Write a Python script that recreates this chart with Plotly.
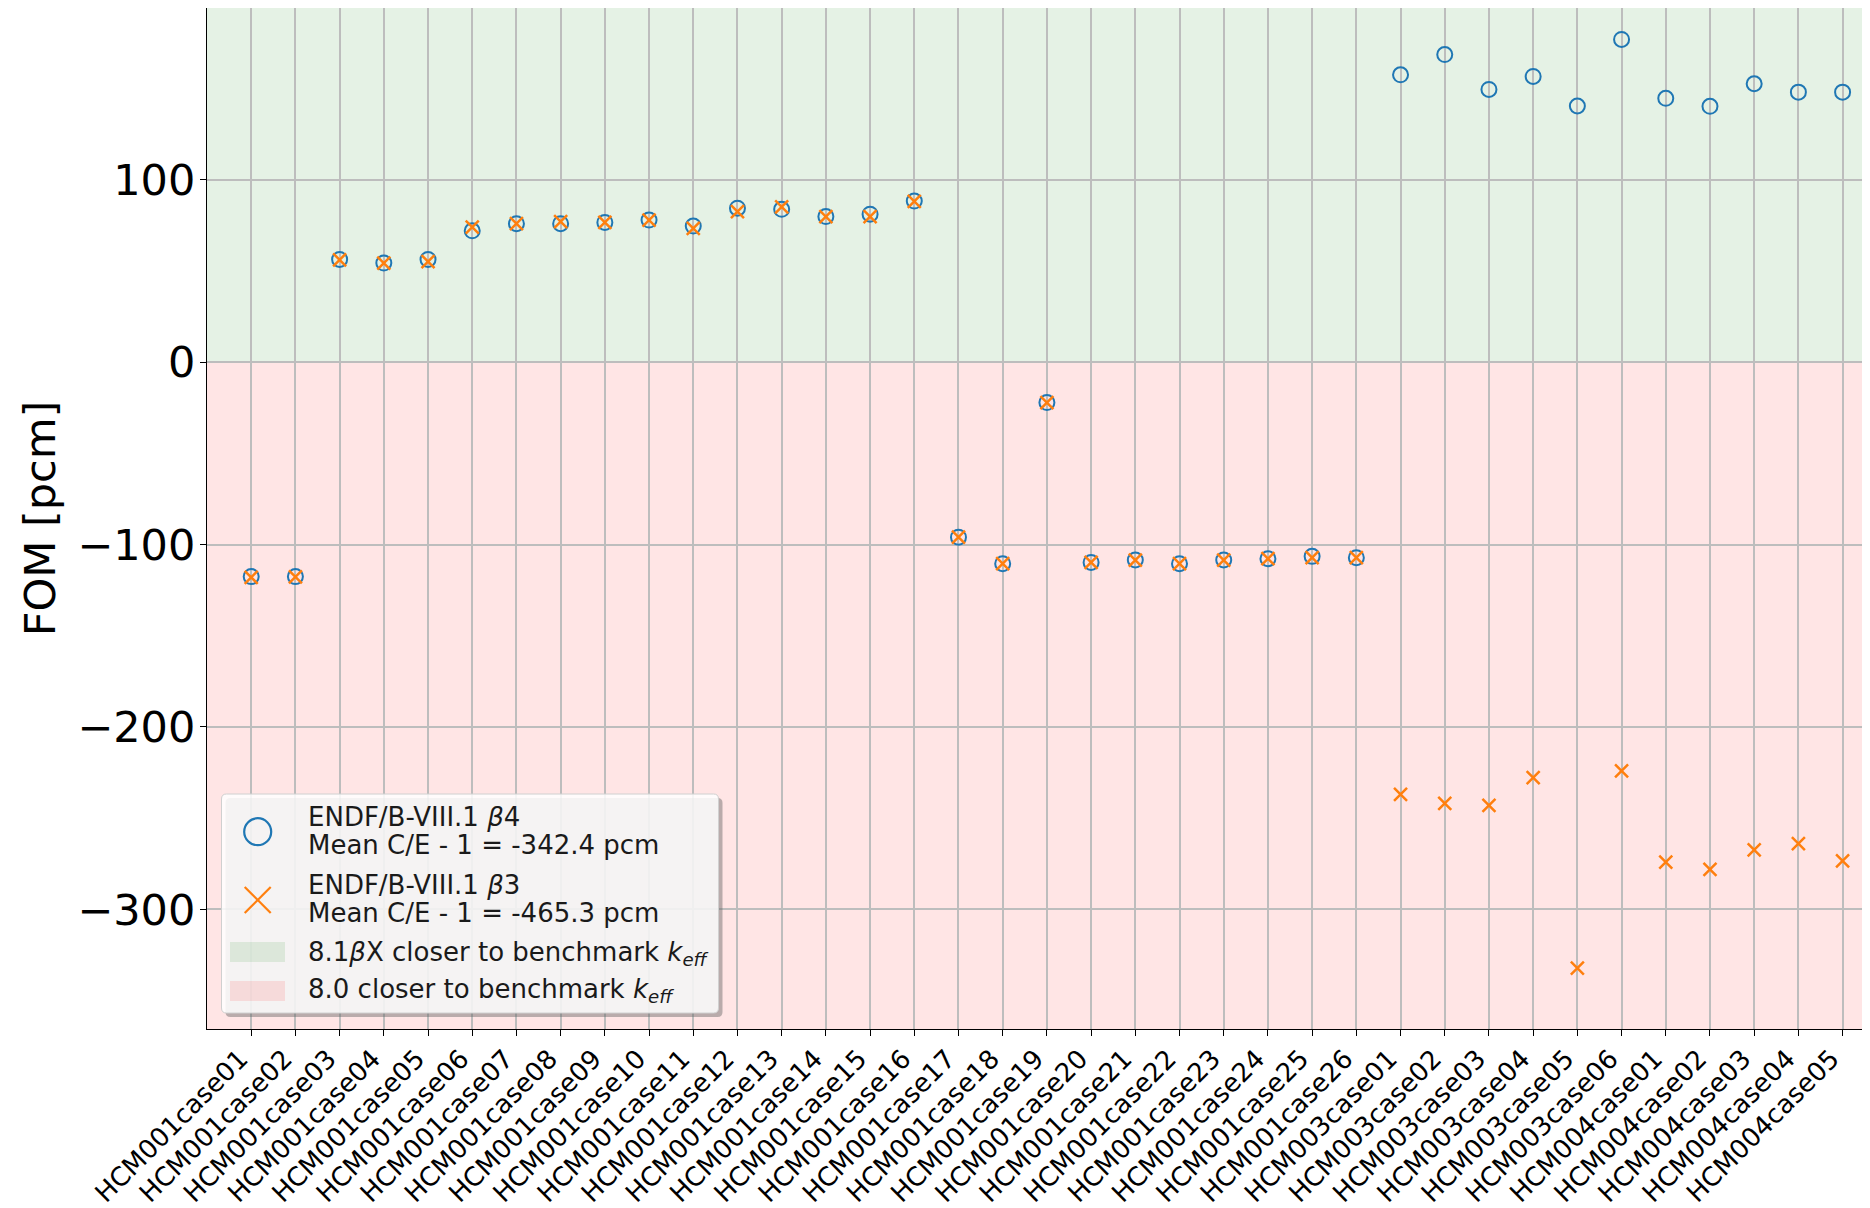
import plotly.graph_objects as go

# ---------------- data ----------------
cases = (
    [f"HCM001case{i:02d}" for i in range(1, 27)]
    + [f"HCM003case{i:02d}" for i in range(1, 7)]
    + [f"HCM004case{i:02d}" for i in range(1, 6)]
)

beta4 = [
    -117.6, -117.6, 56.2, 54.2, 56.2, 71.9, 75.8, 75.8, 76.5, 77.8,
    74.5, 84.3, 83.7, 79.7, 81.0, 88.2, -96.0, -110.5, -22.2, -109.8,
    -108.5, -110.5, -108.5, -107.8, -106.5, -107.2,
    157.4, 168.5, 149.4, 156.5, 140.3, 176.8,
    144.5, 140.1, 152.5, 147.9, 147.9,
]

beta3 = [
    -118.0, -117.8, 56.0, 54.2, 55.0, 73.9, 75.8, 77.0, 76.5, 77.8,
    73.2, 82.4, 85.0, 79.7, 79.7, 88.0, -96.0, -110.5, -22.2, -109.8,
    -108.5, -110.5, -108.5, -107.8, -107.2, -107.2,
    -236.9, -241.8, -242.9, -227.8, -332.2, -224.1,
    -274.1, -278.0, -267.4, -263.9, -273.4,
]

legend_lines = [
    "ENDF/B-VIII.1 <i>β</i>4",
    "Mean C/E - 1 = -342.4 pcm",
    "ENDF/B-VIII.1 <i>β</i>3",
    "Mean C/E - 1 = -465.3 pcm",
    "8.1<i>β</i>X closer to benchmark <i>k</i><sub><i>eff</i></sub>",
    "8.0 closer to benchmark <i>k</i><sub><i>eff</i></sub>",
]

y_ticks = [-300, -200, -100, 0, 100]
Y_MIN, Y_MAX = -365.5, 194.0
X_MIN, X_MAX = -1.0, 36.62

FONT = "DejaVu Sans"
BLUE = "#1f77b4"
ORANGE = "#ff7f0e"
GREEN_FILL = "rgba(0,128,0,0.1)"
RED_FILL = "rgba(255,0,0,0.1)"
GRID = "#bdbdbd"

# ---------------- geometry (pixels) ----------------
# the page body adds an 8px margin, so the figure is 8px smaller and offset
OFF = 8
W, H = 1870 - OFF, 1208 - OFF
ML, MR, MT, MB = 199, 0, 0, 179
PW, PH = W - ML - MR, H - MT - MB


def px(x):
    """window x pixel -> paper x"""
    return (x - OFF - ML) / PW


def py(y):
    """window y pixel -> paper y"""
    return (H - MB - (y - OFF)) / PH


idx = list(range(len(cases)))

fig = go.Figure()

fig.add_trace(go.Scatter(
    x=idx, y=beta4, mode="markers", name="β4", showlegend=False,
    marker=dict(symbol="circle-open", size=15, color=BLUE,
                line=dict(width=2, color=BLUE)),
))
fig.add_trace(go.Scatter(
    x=idx, y=beta3, mode="markers", name="β3", showlegend=False,
    marker=dict(symbol="x-thin-open", size=13, color=ORANGE,
                line=dict(width=2.5, color=ORANGE)),
))

shapes = [
    dict(type="rect", xref="paper", yref="y", x0=0, x1=1, y0=0, y1=Y_MAX,
         fillcolor=GREEN_FILL, line=dict(width=0), layer="below"),
    dict(type="rect", xref="paper", yref="y", x0=0, x1=1, y0=Y_MIN, y1=0,
         fillcolor=RED_FILL, line=dict(width=0), layer="below"),
]


def rounded_rect(x0, y0, x1, y1, r):
    rx, ry = r / PW, r / PH
    X0, X1, Y0, Y1 = px(x0), px(x1), py(y1), py(y0)  # Y0 bottom, Y1 top
    return (
        f"M{X0 + rx},{Y0} L{X1 - rx},{Y0} Q{X1},{Y0} {X1},{Y0 + ry} "
        f"L{X1},{Y1 - ry} Q{X1},{Y1} {X1 - rx},{Y1} L{X0 + rx},{Y1} "
        f"Q{X0},{Y1} {X0},{Y1 - ry} L{X0},{Y0 + ry} Q{X0},{Y0} {X0 + rx},{Y0} Z"
    )


LX0, LY0, LX1, LY1 = 221.5, 794, 718.5, 1013
shapes.append(dict(type="path", xref="paper", yref="paper", layer="above",
                   path=rounded_rect(LX0 + 4, LY0 + 4, LX1 + 4, LY1 + 4, 5),
                   fillcolor="rgba(100,100,100,0.45)", line=dict(width=0)))
shapes.append(dict(type="path", xref="paper", yref="paper", layer="above",
                   path=rounded_rect(LX0, LY0, LX1, LY1, 5),
                   fillcolor="rgba(255,255,255,0.85)",
                   line=dict(width=1, color="#d0d0d0")))

cx, cy1, cy2 = 257.7, 831.7, 900
r = 13.5
shapes.append(dict(type="circle", xref="paper", yref="paper", layer="above",
                   x0=px(cx - r), x1=px(cx + r), y0=py(cy1 + r), y1=py(cy1 - r),
                   line=dict(width=2.2, color=BLUE), fillcolor="rgba(0,0,0,0)"))
s = 13
shapes.append(dict(type="line", xref="paper", yref="paper", layer="above",
                   x0=px(cx - s), x1=px(cx + s), y0=py(cy2 - s), y1=py(cy2 + s),
                   line=dict(width=2.2, color=ORANGE)))
shapes.append(dict(type="line", xref="paper", yref="paper", layer="above",
                   x0=px(cx - s), x1=px(cx + s), y0=py(cy2 + s), y1=py(cy2 - s),
                   line=dict(width=2.2, color=ORANGE)))
shapes.append(dict(type="rect", xref="paper", yref="paper", layer="above",
                   x0=px(230), x1=px(285), y0=py(962), y1=py(942),
                   fillcolor=GREEN_FILL, line=dict(width=0)))
shapes.append(dict(type="rect", xref="paper", yref="paper", layer="above",
                   x0=px(230), x1=px(285), y0=py(1001), y1=py(981),
                   fillcolor=RED_FILL, line=dict(width=0)))

line_y = [816.7, 845, 885, 913.3, 953.3, 990]
annotations = [
    dict(text=t, x=px(306), y=py(yy), xref="paper", yref="paper",
         xanchor="left", yanchor="middle", showarrow=False,
         font=dict(family=FONT, size=26, color="#1a1a1a"))
    for t, yy in zip(legend_lines, line_y)
]

fig.update_layout(
    width=W, height=H,
    margin=dict(l=ML, r=MR, t=MT, b=MB, pad=0),
    paper_bgcolor="white", plot_bgcolor="white",
    font=dict(family=FONT, color="black"),
    showlegend=False,
    shapes=shapes,
    annotations=annotations,
)

fig.update_xaxes(
    range=[X_MIN, X_MAX], tickmode="array", tickvals=idx, ticktext=cases,
    tickangle=-45, tickfont=dict(family=FONT, size=26, color="black"),
    showgrid=True, gridcolor=GRID, gridwidth=1.5,
    ticks="outside", ticklen=6, tickwidth=1.2, tickcolor="black",
    showline=True, linecolor="black", linewidth=1.3, mirror=True,
    zeroline=False, automargin=False, ticklabelshift=-11, ticklabelstandoff=-3,
)
fig.update_yaxes(
    range=[Y_MIN, Y_MAX], tickmode="array", tickvals=y_ticks,
    tickfont=dict(family=FONT, size=43, color="black"),
    title=dict(text="FOM [pcm]", font=dict(family=FONT, size=43, color="black"), standoff=8),
    showgrid=True, gridcolor=GRID, gridwidth=1.5,
    ticks="outside", ticklen=6, tickwidth=1.2, tickcolor="black",
    showline=True, linecolor="black", linewidth=1.3, mirror=False,
    zeroline=False, ticklabelstandoff=-4, automargin=False,
)

fig.write_html("out.html")
